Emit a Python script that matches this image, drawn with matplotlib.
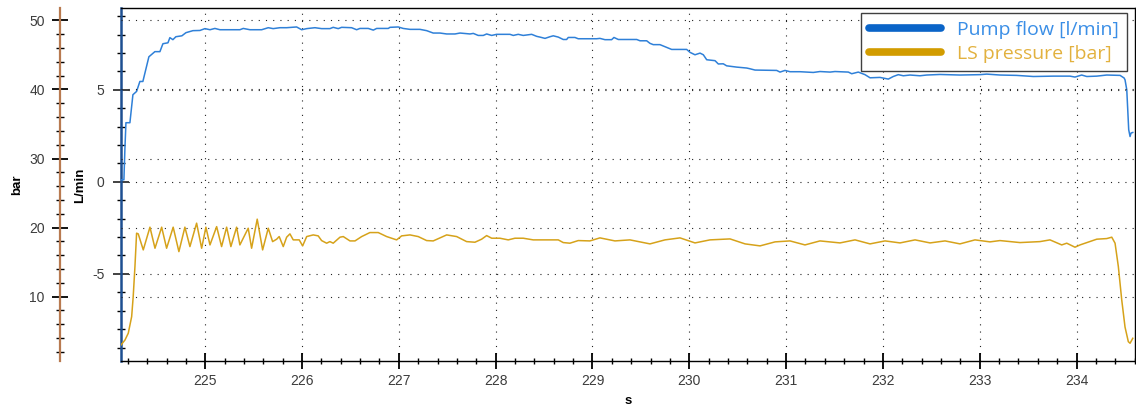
import matplotlib
matplotlib.use("Agg")
import matplotlib.pyplot as plt
from matplotlib.lines import Line2D
from matplotlib.ticker import MultipleLocator

plt.rcParams['font.family'] = ['Liberation Sans', 'DejaVu Sans']
plt.rcParams['axes.unicode_minus'] = False

# Pump flow [l/min] over time [s]
flow_t = [224.134, 224.160, 224.170, 224.181, 224.222, 224.253, 224.291, 224.325, 224.356,
          224.418, 224.480, 224.532, 224.563, 224.615, 224.635, 224.666, 224.697, 224.759,
          224.801, 224.873, 224.945, 224.997, 225.049, 225.100, 225.152, 225.358, 225.393,
          225.462, 225.583, 225.651, 225.702, 225.772, 225.841, 225.944, 225.996, 226.048,
          226.133, 226.202, 226.288, 226.322, 226.374, 226.409, 226.512, 226.564, 226.598,
          226.684, 226.736, 226.771, 226.891, 226.908, 226.994, 227.045, 227.115, 227.218,
          227.287, 227.355, 227.425, 227.494, 227.580, 227.632, 227.735, 227.769, 227.820,
          227.872, 227.907, 227.959, 228.010, 228.148, 228.182, 228.233, 228.285, 228.372,
          228.424, 228.458, 228.510, 228.561, 228.595, 228.647, 228.698, 228.733, 228.750,
          228.819, 228.853, 228.992, 229.043, 229.077, 229.129, 229.198, 229.222, 229.267,
          229.457, 229.491, 229.560, 229.594, 229.628, 229.697, 229.767, 229.818, 229.973,
          230.008, 230.059, 230.111, 230.145, 230.180, 230.266, 230.300, 230.351, 230.386,
          230.490, 230.593, 230.627, 230.679, 230.903, 230.937, 230.989, 231.040, 231.144,
          231.281, 231.350, 231.454, 231.505, 231.643, 231.678, 231.746, 231.815, 231.867,
          231.970, 232.056, 232.107, 232.159, 232.211, 232.280, 232.383, 232.452, 232.590,
          232.796, 233.003, 233.072, 233.209, 233.382, 233.554, 233.760, 233.932, 233.984,
          234.053, 234.106, 234.209, 234.312, 234.450, 234.491, 234.501, 234.519, 234.529,
          234.539, 234.553, 234.563, 234.581]
flow_v = [0.11, 0.11, 1.74, 3.21, 3.21, 4.73, 4.91, 5.45, 5.45,
          6.79, 7.07, 7.07, 7.50, 7.55, 7.83, 7.72, 7.88, 7.93,
          8.10, 8.21, 8.22, 8.32, 8.26, 8.33, 8.26, 8.26, 8.33,
          8.26, 8.26, 8.37, 8.32, 8.37, 8.37, 8.41, 8.26, 8.32,
          8.37, 8.32, 8.32, 8.39, 8.32, 8.39, 8.37, 8.26, 8.33,
          8.33, 8.24, 8.33, 8.33, 8.39, 8.41, 8.33, 8.28, 8.28,
          8.21, 8.08, 8.08, 8.03, 8.03, 8.08, 8.03, 8.06, 7.95,
          7.95, 8.03, 7.95, 8.01, 8.01, 7.95, 8.01, 7.95, 8.01,
          7.90, 7.86, 7.79, 7.88, 7.93, 7.86, 7.73, 7.73, 7.84,
          7.84, 7.77, 7.77, 7.77, 7.79, 7.72, 7.72, 7.84, 7.73,
          7.73, 7.66, 7.66, 7.52, 7.45, 7.45, 7.30, 7.19, 7.19,
          7.03, 6.90, 6.99, 6.90, 6.63, 6.58, 6.40, 6.41, 6.30,
          6.23, 6.18, 6.14, 6.07, 6.05, 5.96, 6.05, 5.98, 5.98,
          5.94, 5.99, 5.96, 5.99, 5.96, 5.87, 5.96, 5.82, 5.65,
          5.67, 5.58, 5.72, 5.82, 5.76, 5.80, 5.76, 5.80, 5.83,
          5.80, 5.82, 5.85, 5.80, 5.78, 5.72, 5.74, 5.74, 5.69,
          5.80, 5.72, 5.74, 5.80, 5.78, 5.64, 5.54, 5.00, 3.91,
          2.83, 2.46, 2.65, 2.68]

# LS pressure [bar] over time [s]
ls_t = [224.130, 224.171, 224.205, 224.240, 224.256, 224.274, 224.291, 224.308, 224.360,
        224.429, 224.481, 224.550, 224.601, 224.669, 224.728, 224.790, 224.842, 224.911,
        224.963, 225.007, 225.049, 225.118, 225.169, 225.221, 225.265, 225.324, 225.358,
        225.444, 225.479, 225.537, 225.593, 225.651, 225.696, 225.738, 225.764, 225.806,
        225.841, 225.875, 225.909, 225.971, 226.006, 226.048, 226.116, 226.167, 226.202,
        226.254, 226.288, 226.322, 226.392, 226.426, 226.495, 226.547, 226.616, 226.701,
        226.787, 226.874, 226.977, 227.029, 227.115, 227.200, 227.287, 227.355, 227.494,
        227.597, 227.700, 227.786, 227.855, 227.907, 227.959, 228.044, 228.130, 228.199,
        228.285, 228.388, 228.458, 228.647, 228.698, 228.767, 228.853, 228.973, 229.077,
        229.232, 229.387, 229.594, 229.749, 229.904, 230.059, 230.214, 230.421, 230.576,
        230.731, 230.886, 231.040, 231.195, 231.350, 231.557, 231.712, 231.867, 232.022,
        232.177, 232.332, 232.487, 232.642, 232.796, 232.951, 233.106, 233.209, 233.416,
        233.622, 233.726, 233.847, 233.899, 233.984, 234.036, 234.209, 234.312, 234.364,
        234.398, 234.432, 234.467, 234.501, 234.535, 234.553, 234.581]
ls_p = [3.00, 3.72, 4.70, 7.10, 10.00, 14.35, 19.19, 19.09, 16.77,
        20.06, 17.01, 20.06, 17.01, 20.06, 16.52, 20.06, 17.25, 20.64,
        17.01, 20.06, 17.49, 20.14, 17.25, 20.06, 17.25, 20.06, 17.49,
        19.91, 17.01, 21.22, 16.77, 19.91, 17.97, 18.32, 18.70, 17.25,
        18.61, 19.09, 18.22, 18.22, 17.35, 18.70, 18.94, 18.80, 18.12,
        17.74, 17.97, 17.74, 18.61, 18.70, 18.07, 18.07, 18.70, 19.28,
        19.28, 18.70, 18.22, 18.80, 18.94, 18.70, 18.12, 18.07, 18.94,
        18.70, 17.97, 17.88, 18.32, 18.84, 18.46, 18.46, 18.22, 18.46,
        18.46, 18.22, 18.22, 18.22, 17.83, 17.74, 18.12, 18.07, 18.51,
        18.07, 18.22, 17.64, 18.22, 18.51, 17.78, 18.22, 18.36, 17.64,
        17.35, 17.93, 18.07, 17.49, 18.07, 17.78, 18.22, 17.64, 18.07,
        17.78, 18.22, 17.78, 18.07, 17.64, 18.22, 17.93, 18.12, 17.83,
        17.97, 18.22, 17.49, 17.74, 17.16, 17.49, 18.32, 18.41, 18.61,
        17.74, 14.35, 9.52, 5.59, 3.48, 3.25, 3.97]

series_labels = ['Pump flow [l/min]', 'LS pressure [bar]']
flow_color = '#2f80d8'
ls_color = '#d6a21a'
legend_line_colors = ['#0a64c8', '#d29c00']
legend_text_colors = ['#3a8ee6', '#e2b13e']
tick_gray = '#3c3c3c'

fig = plt.figure(figsize=(11.36, 4.08), dpi=100)
ax = fig.add_axes([121 / 1136, 1 - 361 / 408, 1014 / 1136, 353 / 408])
ax2 = ax.twinx()

ax.set_xlim(224.13, 234.604)
ax.set_ylim(-9.73, 9.44)
ax2.set_ylim(0.68, 51.8)

dot = dict(color='#222222', linestyle=(0, (1, 5.5)), linewidth=0.8)

# flow on the L/min axis
ax.plot(flow_t, flow_v, color=flow_color, lw=1.1, zorder=3)
# pressure on the bar axis
ax2.plot(ls_t, ls_p, color=ls_color, lw=1.1, zorder=3)

# x axis
ax.xaxis.set_major_locator(MultipleLocator(1))
ax.xaxis.set_minor_locator(MultipleLocator(0.2))
ax.tick_params(axis='x', which='major', direction='inout', length=11, width=1.3,
               color='black', labelsize=10, labelcolor=tick_gray, pad=4)
ax.tick_params(axis='x', which='minor', direction='inout', length=5, width=1.0, color='black')
ax.set_xlabel('s', fontsize=9.5, fontweight='bold')
ax.xaxis.set_label_coords(0.5, -0.113)
ax.xaxis.label.set_va('center')

# L/min axis
ax.yaxis.set_major_locator(MultipleLocator(5))
ax.yaxis.set_minor_locator(MultipleLocator(1))
ax.tick_params(axis='y', which='major', direction='inout', length=12, width=1.3,
               color='#333333', labelsize=10, labelcolor=tick_gray, pad=6)
ax.tick_params(axis='y', which='minor', direction='inout', length=6, width=1.0, color='black')
ax.set_ylabel('L/min', fontsize=9.5, fontweight='bold')
ax.yaxis.set_label_coords(-0.0404, 0.4986)
ax.yaxis.label.set_va('center')

ax.grid(True, axis='x', which='major', **dot)
ax.grid(True, axis='y', which='major', **dot)

ax.spines['left'].set_color('#1d4f91')
ax.spines['left'].set_linewidth(1.8)
for side in ('top', 'right', 'bottom'):
    ax.spines[side].set_color('black')
    ax.spines[side].set_linewidth(1.0)

# bar axis, offset to the left
ax2.yaxis.set_ticks_position('left')
ax2.yaxis.set_label_position('left')
ax2.spines['left'].set_position(('axes', -61 / 1014))
for side in ('top', 'right', 'bottom'):
    ax2.spines[side].set_visible(False)
ax2.spines['left'].set_color('#b87a50')
ax2.spines['left'].set_linewidth(1.6)
ax2.yaxis.set_major_locator(MultipleLocator(10))
ax2.yaxis.set_minor_locator(MultipleLocator(2))
ax2.tick_params(axis='y', which='major', direction='inout', length=12, width=1.3,
                color='black', labelsize=10, labelcolor=tick_gray, pad=5)
ax2.tick_params(axis='y', which='minor', direction='inout', length=6, width=1.0, color='black')
ax2.set_ylabel('bar', fontsize=9.5, fontweight='bold')
ax2.yaxis.set_label_coords(-0.1026, 0.4986)
ax2.yaxis.label.set_va('center')
ax2.grid(True, axis='y', which='major', **dot)

handles = [Line2D([], [], color=c, lw=5.5, solid_capstyle='round') for c in legend_line_colors]
leg = ax2.legend(handles, series_labels, loc='upper right',
                 bbox_to_anchor=((1127 - 121) / 1014, (361 - 13) / 353),
                 borderaxespad=0, fancybox=False, framealpha=1, edgecolor='#404040',
                 prop={'family': 'Open Sans', 'size': 14}, labelcolor=legend_text_colors,
                 handlelength=3.7, handletextpad=0.85, labelspacing=0.32, borderpad=0.4)
leg.get_frame().set_linewidth(1.0)

fig.savefig('out.png', dpi=100)
